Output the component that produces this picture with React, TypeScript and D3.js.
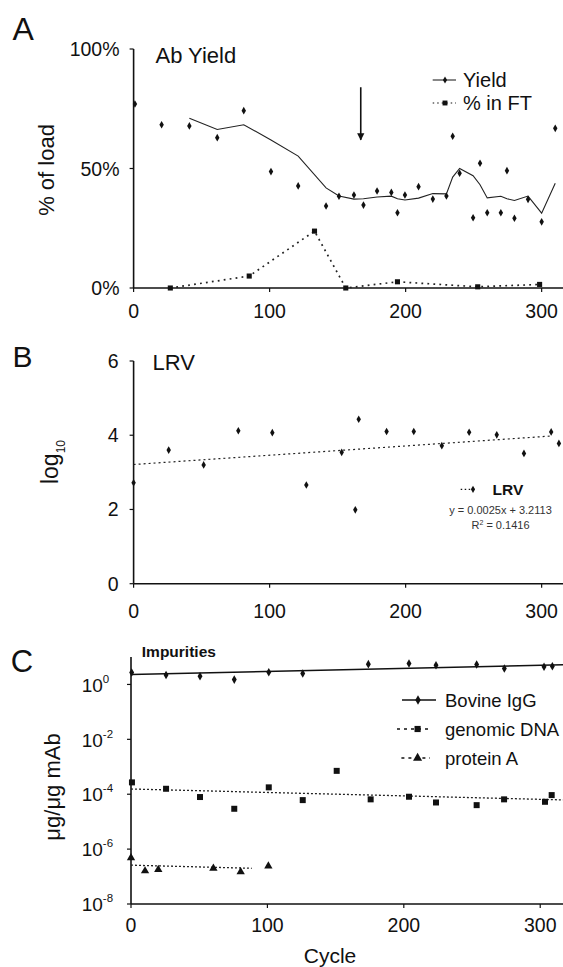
import * as d3 from 'd3'

const W = 563
const H = 967
const FONT = "'Liberation Sans', Arial, Helvetica, sans-serif"
const INK = '#111'

// ---- Panel A: Ab yield ----
const yieldCycles = [1, 20.6, 41, 61.5, 81, 101, 121, 141.5, 151, 162, 169, 179, 189.5, 194, 199.5, 209.5, 220, 230, 234.6, 239.7, 249.6, 254.7, 260, 270, 274.5, 280, 290, 300, 310]
const yieldValues = [77, 68.3, 67.8, 62.9, 74.2, 48.7, 42.7, 34.3, 38.4, 38.9, 34.7, 40.6, 40, 31.5, 38.9, 42.4, 37.2, 38.5, 63.5, 48, 29.4, 52.2, 31.5, 31.5, 49.1, 29.2, 37.1, 27.7, 66.8]
const ftCycles = [27, 85, 133, 156, 194, 253, 298.5]
const ftValues = [0, 5, 23.8, 0, 2.6, 0.5, 1.5]
const yieldTicks = [0, 50, 100]
const cycleTicks = [0, 100, 200, 300]
const arrowCycle = 167
const arrowFrom = 84
const arrowTo = 62

// ---- Panel B: LRV ----
const lrvCycles = [0, 25.8, 51.5, 77, 102, 127, 153, 163, 165.5, 186, 206, 226.6, 246.7, 267, 287, 307, 312.7]
const lrvValues = [2.72, 3.6, 3.2, 4.12, 4.07, 2.66, 3.54, 1.99, 4.43, 4.1, 4.1, 3.72, 4.08, 4.01, 3.51, 4.09, 3.78]
const lrvSlope = 0.0025
const lrvIntercept = 3.2113
const lrvFitCycles = [0, 308]
const lrvTicks = [0, 2, 4, 6]

// ---- Panel C: impurities ----
const igCycles = [0.5, 25.7, 50.6, 75.7, 101, 125.9, 174, 203.8, 223.6, 253.4, 273.7, 302.8, 308.9]
const igValues = [2.7, 2.2, 2.0, 1.5, 2.8, 2.5, 5.5, 5.8, 5.0, 5.3, 3.8, 4.4, 4.6]
const igTrendCycles = [0, 317]
const igTrendValues = [2.3, 5.2]
const dnaCycles = [0.7, 25.7, 50.6, 75.7, 101, 125.9, 150.8, 175.7, 203.8, 223.6, 253.4, 273.5, 303.5, 308.4]
const dnaValues = [2.7e-4, 1.58e-4, 7.9e-5, 2.95e-5, 1.78e-4, 6.1e-5, 7.1e-4, 6.5e-5, 8.1e-5, 5.0e-5, 4.0e-5, 6.5e-5, 5.3e-5, 9.3e-5]
const dnaTrendCycles = [0, 317]
const dnaTrendValues = [1.55e-4, 6.2e-5]
const protCycles = [0, 10.3, 20, 60.4, 80.4, 100.7]
const protValues = [4.8e-7, 1.6e-7, 1.8e-7, 2.0e-7, 1.5e-7, 2.4e-7]
const protTrendCycles = [0, 88.5]
const protTrendValues = [2.6e-7, 2.0e-7]
const impurityExps = [0, -2, -4, -6, -8]

const xA = d3.scaleLinear().domain([0, 315.7]).range([133.6, 563])
const yA = d3.scaleLinear().domain([0, 100]).range([288, 49])
const xB = d3.scaleLinear().domain([0, 315.7]).range([133.6, 563])
const yB = d3.scaleLinear().domain([0, 6]).range([583.7, 361])
const xC = d3.scaleLinear().domain([0, 316.7]).range([131, 563])
const yC = d3.scaleLog().domain([1e-8, 10]).range([904, 657])

const sym = (type: d3.SymbolType, size: number) => d3.symbol().type(type).size(size)() as string

function Diamond({ x, y, size = 12 }: { x: number; y: number; size?: number }) {
  return <path d={sym(d3.symbolDiamond, size)} transform={`translate(${x},${y})`} fill={INK} />
}
function Square({ x, y, size = 25 }: { x: number; y: number; size?: number }) {
  return <path d={sym(d3.symbolSquare, size)} transform={`translate(${x},${y})`} fill={INK} />
}
function Triangle({ x, y, size = 26 }: { x: number; y: number; size?: number }) {
  return <path d={sym(d3.symbolTriangle, size)} transform={`translate(${x},${y})`} fill={INK} />
}

export default function App() {
  // 3-point moving average trendline of the yield
  const yieldAvg = yieldValues.map((v, i) => (i < 2 ? null : d3.mean(yieldValues.slice(i - 2, i + 1)) as number))
  const avgLine = d3.line<number | null>()
    .defined(d => d !== null)
    .x((d, i) => xA(yieldCycles[i]))
    .y(d => yA(d as number))
  const ftLine = d3.line<number>().x((d, i) => xA(ftCycles[i])).y(d => yA(d))

  const lrvFit = d3.line<number>().x(c => xB(c)).y(c => yB(lrvIntercept + lrvSlope * c))

  const trendC = (cs: number[]) => d3.line<number>().x((d, i) => xC(cs[i])).y(d => yC(d))

  const tickLen = 4

  return (
    <svg width={W} height={H} style={{ position: 'absolute', left: 0, top: 0, background: '#fff' }} fontFamily={FONT}>
      <defs>
        <marker id="arrowHead" viewBox="0 0 10 10" refX="9" refY="5" markerWidth="4.5" markerHeight="5" orient="auto">
          <path d="M0,0 L10,5 L0,10 z" fill={INK} />
        </marker>
      </defs>

      {/* ================= Panel A ================= */}
      <text x={12.6} y={40} fontSize={32} fill={INK}>A</text>
      <text x={155.5} y={62.7} fontSize={22} fill={INK}>Ab Yield</text>
      <text transform={`translate(46.7,170) rotate(-90)`} textAnchor="middle" dominantBaseline="central" fontSize={22} fill={INK}>% of load</text>

      <line x1={xA(0)} x2={xA(0)} y1={yA(100)} y2={yA(0)} stroke={INK} strokeWidth={1.6} />
      <line x1={xA(0)} x2={W} y1={yA(0)} y2={yA(0)} stroke={INK} strokeWidth={1.6} />
      {yieldTicks.map(t => (
        <g key={t}>
          <line x1={xA(0) - tickLen} x2={xA(0)} y1={yA(t)} y2={yA(t)} stroke={INK} strokeWidth={1.2} />
          <text x={119.5} y={yA(t) + 7} textAnchor="end" fontSize={19.5} fill={INK}>{`${t}%`}</text>
        </g>
      ))}
      {cycleTicks.map(t => (
        <g key={t}>
          <line x1={xA(t)} x2={xA(t)} y1={yA(0)} y2={yA(0) + tickLen} stroke={INK} strokeWidth={1.2} />
          <text x={xA(t)} y={318} textAnchor="middle" fontSize={19.5} fill={INK}>{t}</text>
        </g>
      ))}

      <path d={avgLine(yieldAvg) as string} fill="none" stroke="#222" strokeWidth={1.1} />
      <path d={ftLine(ftValues) as string} fill="none" stroke="#222" strokeWidth={1.7} strokeDasharray="1.8,4.2" />
      {yieldValues.map((v, i) => <Diamond key={i} x={xA(yieldCycles[i])} y={yA(v)} size={17} />)}
      {ftValues.map((v, i) => <Square key={i} x={xA(ftCycles[i])} y={yA(v)} size={26} />)}

      <line x1={xA(arrowCycle)} x2={xA(arrowCycle)} y1={yA(arrowFrom)} y2={yA(arrowTo)} stroke={INK} strokeWidth={1.6} markerEnd="url(#arrowHead)" />

      {/* legend A */}
      <line x1={432.7} x2={456} y1={80} y2={80} stroke={INK} strokeWidth={1} />
      <Diamond x={445} y={80} size={15} />
      <text x={463} y={87} fontSize={20} fill={INK}>Yield</text>
      <line x1={432.7} x2={456} y1={103} y2={103} stroke={INK} strokeWidth={1.2} strokeDasharray="1.5,3" />
      <Square x={445} y={103} size={24} />
      <text x={463} y={110} fontSize={20} fill={INK}>% in FT</text>

      {/* ================= Panel B ================= */}
      <text x={12.6} y={366.7} fontSize={30} fill={INK}>B</text>
      <text x={152.6} y={370} fontSize={22} fill={INK}>LRV</text>
      <text transform={`translate(58,462) rotate(-90)`} textAnchor="middle" fontSize={23} fill={INK}>
        log<tspan fontSize={12} dy={7}>10</tspan>
      </text>

      <line x1={xB(0)} x2={xB(0)} y1={yB(6)} y2={yB(0)} stroke={INK} strokeWidth={1.6} />
      <line x1={xB(0)} x2={W} y1={yB(0)} y2={yB(0)} stroke={INK} strokeWidth={1.6} />
      {lrvTicks.map(t => (
        <g key={t}>
          <line x1={xB(0) - tickLen} x2={xB(0)} y1={yB(t)} y2={yB(t)} stroke={INK} strokeWidth={1.2} />
          <text x={118.5} y={yB(t) + 7} textAnchor="end" fontSize={19.5} fill={INK}>{t}</text>
        </g>
      ))}
      {cycleTicks.map(t => (
        <g key={t}>
          <line x1={xB(t)} x2={xB(t)} y1={yB(0)} y2={yB(0) + tickLen} stroke={INK} strokeWidth={1.2} />
          <text x={xB(t)} y={618} textAnchor="middle" fontSize={19.5} fill={INK}>{t}</text>
        </g>
      ))}

      <path d={lrvFit(lrvFitCycles) as string} fill="none" stroke="#222" strokeWidth={1.2} strokeDasharray="2,3" />
      {lrvValues.map((v, i) => <Diamond key={i} x={xB(lrvCycles[i])} y={yB(v)} size={17} />)}

      {/* legend B */}
      <line x1={460.7} x2={476} y1={489.3} y2={489.3} stroke={INK} strokeWidth={1.2} strokeDasharray="1.5,2.5" />
      <Diamond x={473} y={489.3} size={15} />
      <text x={492.6} y={495} fontSize={15.5} fontWeight="bold" fill={INK}>LRV</text>
      <text x={500.5} y={514} textAnchor="middle" fontSize={11} fill="#333">y = 0.0025x + 3.2113</text>
      <text x={500.5} y={529} textAnchor="middle" fontSize={11} fill="#333">
        R<tspan fontSize={7} dy={-4}>2</tspan><tspan dy={4}> = 0.1416</tspan>
      </text>

      {/* ================= Panel C ================= */}
      <text x={10.8} y={671.7} fontSize={31} fill={INK}>C</text>
      <text x={141.8} y={657} fontSize={15.5} fontWeight="bold" fill={INK}>Impurities</text>
      <text transform={`translate(52,787) rotate(-90)`} textAnchor="middle" dominantBaseline="central" fontSize={22} fill={INK}>μg/μg mAb</text>

      <line x1={xC(0)} x2={xC(0)} y1={657} y2={yC(1e-8)} stroke={INK} strokeWidth={1.6} />
      <line x1={xC(0)} x2={W} y1={yC(1e-8)} y2={yC(1e-8)} stroke={INK} strokeWidth={1.6} />
      {impurityExps.map(e => (
        <g key={e}>
          <line x1={xC(0) - tickLen} x2={xC(0)} y1={yC(10 ** e)} y2={yC(10 ** e)} stroke={INK} strokeWidth={1.2} />
          <text x={81.7} y={yC(10 ** e) + 7.2} fontSize={19} fill={INK}>
            10<tspan fontSize={11.5} dy={-9}>{e}</tspan>
          </text>
        </g>
      ))}
      {cycleTicks.map(t => (
        <g key={t}>
          <line x1={xC(t)} x2={xC(t)} y1={yC(1e-8)} y2={yC(1e-8) + tickLen} stroke={INK} strokeWidth={1.2} />
          <text x={xC(t)} y={932} textAnchor="middle" fontSize={19.5} fill={INK}>{t}</text>
        </g>
      ))}
      <text x={330} y={963} textAnchor="middle" fontSize={21} fill={INK}>Cycle</text>

      <path d={trendC(igTrendCycles)(igTrendValues) as string} fill="none" stroke={INK} strokeWidth={1.6} />
      <path d={trendC(dnaTrendCycles)(dnaTrendValues) as string} fill="none" stroke="#222" strokeWidth={1.3} strokeDasharray="2,2" />
      <path d={trendC(protTrendCycles)(protTrendValues) as string} fill="none" stroke="#222" strokeWidth={1.3} strokeDasharray="2,2" />
      {igValues.map((v, i) => <Diamond key={i} x={xC(igCycles[i])} y={yC(v)} size={21} />)}
      {dnaValues.map((v, i) => <Square key={i} x={xC(dnaCycles[i])} y={yC(v)} size={36} />)}
      {protValues.map((v, i) => <Triangle key={i} x={xC(protCycles[i])} y={yC(v)} size={30} />)}

      {/* legend C */}
      <line x1={402} x2={436} y1={700} y2={700} stroke={INK} strokeWidth={1.6} />
      <Diamond x={418} y={700} size={26} />
      <text x={445} y={706.6} fontSize={18.5} fill={INK}>Bovine IgG</text>
      <line x1={397} x2={431} y1={729} y2={729} stroke={INK} strokeWidth={1.5} strokeDasharray="3,4" />
      <Square x={417.6} y={729} size={38} />
      <text x={445} y={735.6} fontSize={18.5} fill={INK}>genomic DNA</text>
      <line x1={401.4} x2={430} y1={758} y2={758} stroke={INK} strokeWidth={1.5} strokeDasharray="3,4" />
      <Triangle x={417.6} y={758} size={36} />
      <text x={445} y={764.6} fontSize={18.5} fill={INK}>protein A</text>
    </svg>
  )
}
